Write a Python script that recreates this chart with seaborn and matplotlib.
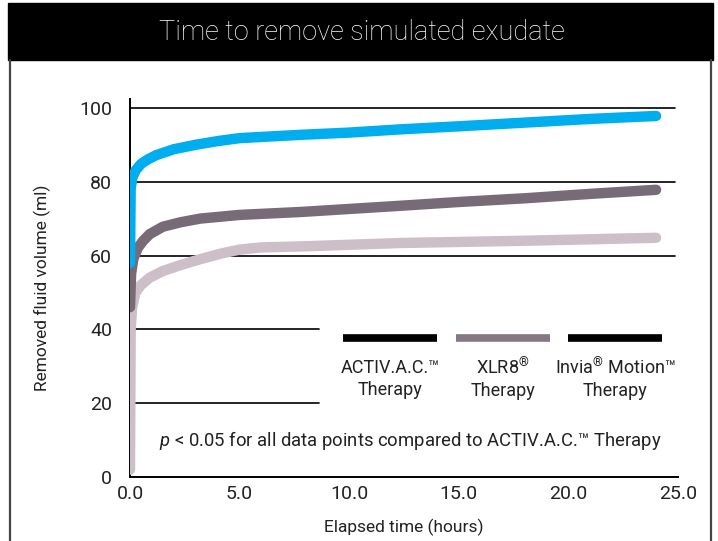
import matplotlib.pyplot as plt
import matplotlib.patches as patches
import matplotlib.lines as mlines
import seaborn as sns
import pandas as pd

# data (hours, ml)
activ_t = [0, 0.03, 0.1, 0.25, 0.5, 0.8, 1.2, 2.0, 3.0, 4.0, 5.0, 7.8, 10.0, 12.4, 15.0, 18.0, 21.0, 24.0]
activ_v = [58, 78, 81, 83, 84.8, 86, 87.2, 88.8, 90, 91, 91.8, 92.7, 93.3, 94.2, 95.0, 96.0, 97.0, 97.8]
xlr8_t = [0, 0.05, 0.15, 0.35, 0.6, 0.9, 1.5, 2.3, 3.2, 5.0, 7.8, 12.4, 15.0, 18.0, 21.0, 24.0]
xlr8_v = [46, 55, 59, 62, 64, 65.8, 67.8, 69, 70, 71, 71.8, 73.5, 74.5, 75.5, 76.7, 77.8]
invia_t = [0, 0.03, 0.1, 0.25, 0.5, 0.9, 1.5, 2.3, 3.2, 4.2, 5.0, 6.0, 8.0, 12.4, 18.0, 24.0]
invia_v = [2, 40, 46, 50, 52, 54, 55.8, 57.4, 59, 60.6, 61.6, 62.2, 62.5, 63.4, 64.0, 64.8]

series = ['Invia', 'XLR8', 'ACTIV']
colors = {'Invia': '#cdbfc8', 'XLR8': '#776b77', 'ACTIV': '#00aeef'}

legend_labels = ['ACTIV.A.C.\u2122\nTherapy', 'XLR8$^{\u00ae}$\nTherapy', 'Invia$^{\u00ae}$ Motion\u2122\nTherapy']
legend_colors = ['#000000', '#857882', '#000000']

df = pd.concat([
    pd.DataFrame({'t': invia_t, 'v': invia_v, 's': 'Invia'}),
    pd.DataFrame({'t': xlr8_t, 'v': xlr8_v, 's': 'XLR8'}),
    pd.DataFrame({'t': activ_t, 'v': activ_v, 's': 'ACTIV'}),
])

sns.set_theme(style="white")
plt.rcParams['font.family'] = ['Roboto', 'DejaVu Sans']
plt.rcParams['font.weight'] = 'normal'
plt.rcParams['axes.labelweight'] = 'normal'
plt.rcParams['mathtext.fontset'] = 'custom'
plt.rcParams['mathtext.it'] = 'Roboto:italic'
plt.rcParams['mathtext.rm'] = 'Roboto'

txt = '#222222'
fig = plt.figure(figsize=(7.18, 5.41), dpi=100)
W, H = 718, 541

# frame and title band
fig.patches.append(patches.Rectangle((8 / W, 1 - 60 / H), 705 / W, 57 / H,
                                     transform=fig.transFigure, color='black', zorder=0))
for x in (10, 711):
    fig.lines.append(mlines.Line2D([x / W, x / W], [0, 1 - 60 / H], transform=fig.transFigure,
                                   color='#444444', lw=1.6))
fig.text(362 / W, 1 - 33 / H, 'Time to remove simulated exudate', color='white',
         fontsize=19.5, ha='center', va='center', fontweight='light')

ax = fig.add_axes([130 / W, 1 - 477 / H, 548 / W, 378 / H])
ax.set_xlim(0, 25)
ax.set_ylim(0, 102.4)

for y in (60, 80, 100):
    ax.axhline(y, xmin=0, xmax=24.85 / 25, color='black', lw=1.2, zorder=1)
for y in (20, 40):
    ax.axhline(y, xmin=0, xmax=8.6 / 25, color='black', lw=1.2, zorder=1)

sns.lineplot(data=df, x='t', y='v', hue='s', hue_order=series, palette=colors,
             estimator=None, sort=False, lw=7.5, solid_capstyle='round', legend=False, ax=ax, zorder=3)

ax.set_xticks([0, 5, 10, 15, 20, 25])
ax.set_xticklabels(['0.0', '5.0', '10.0', '15.0', '20.0', '25.0'])
ax.set_yticks([0, 20, 40, 60, 80, 100])
ax.tick_params(axis='x', length=0, pad=6, labelsize=14, colors=txt)
ax.tick_params(axis='y', length=0, pad=13, labelsize=14, colors=txt)
ax.set_xlabel('Elapsed time (hours)', fontsize=12.5, labelpad=11, color=txt)
ax.set_ylabel('Removed fluid volume (ml)', fontsize=12.5, labelpad=20, color=txt)
for side in ('top', 'right'):
    ax.spines[side].set_visible(False)
for side in ('left', 'bottom'):
    ax.spines[side].set_color('black')
    ax.spines[side].set_linewidth(1.4)

# legend drawn as in the reference
centers = [390, 503, 615]
for c, lab, col in zip(centers, legend_labels, legend_colors):
    fig.lines.append(mlines.Line2D([(c - 47) / W, (c + 47) / W], [1 - 338 / H, 1 - 338 / H],
                                   transform=fig.transFigure, color=col, lw=5.5,
                                   solid_capstyle='butt'))
    fig.text(c / W, 1 - 379 / H, lab, ha='center', va='center', fontsize=13,
             linespacing=1.25, color=txt)
fig.text(410 / W, 1 - 440 / H, '$p$ < 0.05 for all data points compared to ACTIV.A.C.\u2122 Therapy',
         ha='center', va='center', fontsize=13.3, color=txt)

fig.savefig('out.png', dpi=100)
